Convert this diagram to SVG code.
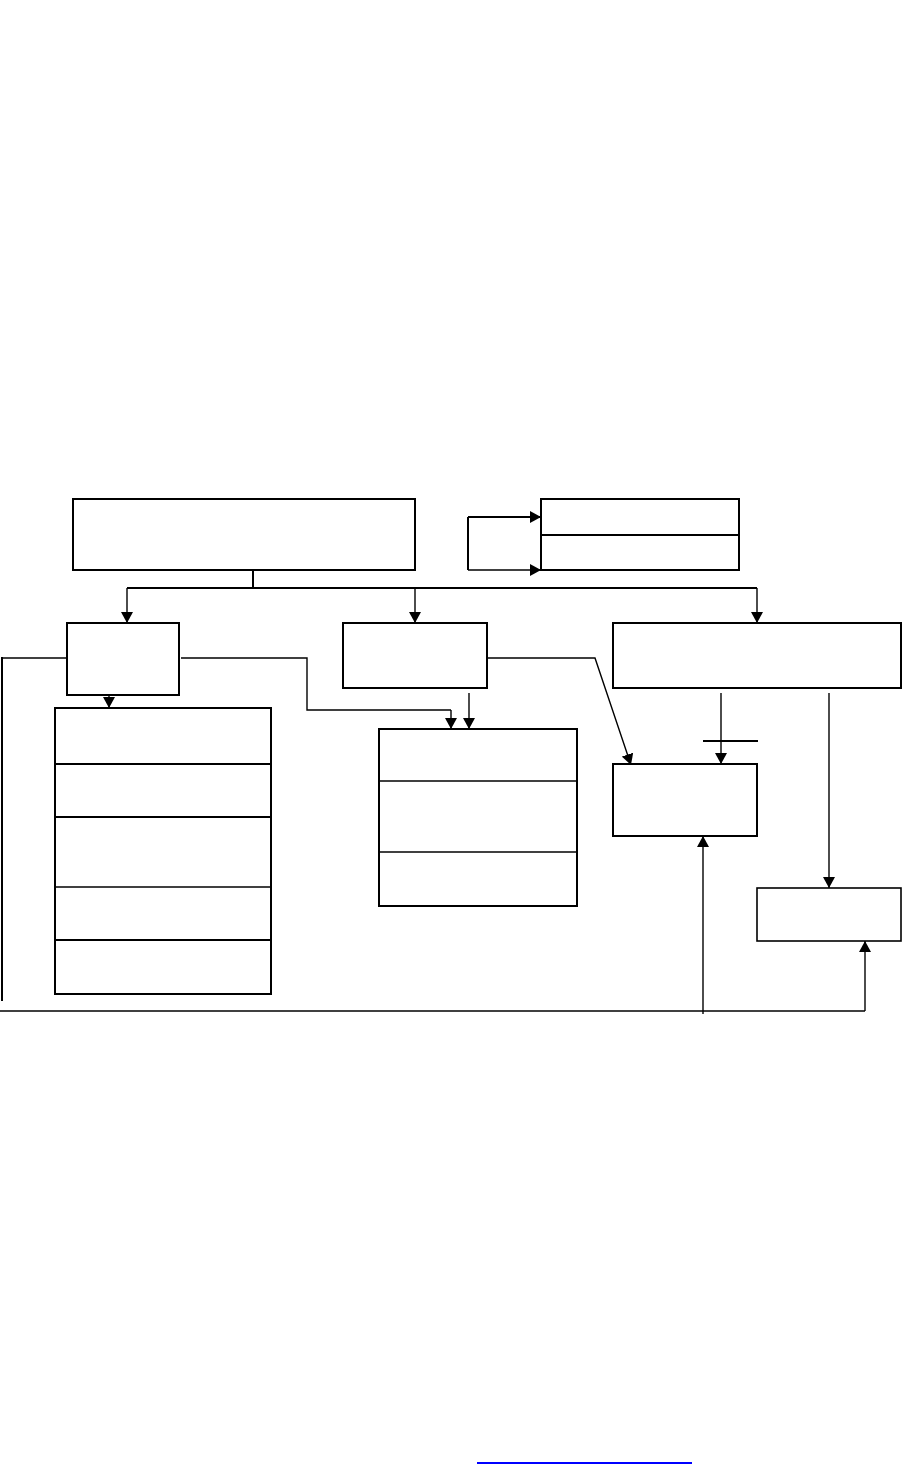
<svg xmlns="http://www.w3.org/2000/svg" width="902" height="1465" viewBox="0 0 902 1465">
<style>
.box{fill:#fff;stroke:#000;stroke-width:2}
.div2{stroke:#000;stroke-width:2}
.div1{stroke:#000;stroke-width:1.3}
.ln{fill:none;stroke:#000;stroke-width:1.4}
.ln2{fill:none;stroke:#000;stroke-width:2}
.arr{marker-end:url(#ah)}
</style>
<defs>
<marker id="ah" viewBox="0 0 10 10" refX="10" refY="5" markerWidth="11" markerHeight="12" markerUnits="userSpaceOnUse" orient="auto" preserveAspectRatio="none">
<path d="M0,0 L10,5 L0,10 Z" fill="#000"/>
</marker>
</defs>
<rect width="902" height="1465" fill="#fff"/>
<g id="connectors">
<path class="ln2" d="M253,570 V588"/>
<path class="ln2" d="M127,588 H757"/>
<path class="ln arr" d="M127,588 V623"/>
<path class="ln arr" d="M415,588 V623"/>
<path class="ln arr" d="M757,588 V623"/>
<path class="ln2" d="M468,517 V570"/>
<path class="ln2 arr" d="M468,517 H541"/>
<path class="ln arr" d="M468,570 H541"/>
<path class="ln" d="M74,658 H2"/>
<path class="ln2" d="M2,657 V1001"/>
<path class="ln arr" d="M109,695 V708"/>
<path class="ln" d="M181,658 H307 V710 H451"/>
<path class="ln arr" d="M451,710 V729"/>
<path class="ln arr" d="M469,693 V729"/>
<path class="ln arr" d="M487,658 H595 L631,765"/>
<path class="ln arr" d="M721,693 V764"/>
<path class="ln2" d="M703,741 H758"/>
<path class="ln arr" d="M829,693 V888"/>
<path class="ln" d="M0,1011 H865"/>
<path class="ln arr" d="M865,1011 V941"/>
<path class="ln arr" d="M703,1014 V836"/>
</g>
<g id="node-top"><rect class="box" x="73" y="499" width="342" height="71"/></g>
<g id="node-pair">
<rect class="box" x="541" y="499" width="198" height="71"/>
<line class="div2" x1="541" y1="535" x2="739" y2="535"/>
</g>
<g id="node-a"><rect class="box" x="67" y="623" width="112" height="72"/></g>
<g id="node-b"><rect class="box" x="343" y="623" width="144" height="65"/></g>
<g id="node-c"><rect class="box" x="613" y="623" width="288" height="65"/></g>
<g id="node-left-stack">
<rect class="box" x="55" y="708" width="216" height="286"/>
<line class="div2" x1="55" y1="764" x2="271" y2="764"/>
<line class="div2" x1="55" y1="817" x2="271" y2="817"/>
<line class="div1" x1="55" y1="887" x2="271" y2="887"/>
<line class="div2" x1="55" y1="940" x2="271" y2="940"/>
</g>
<g id="node-mid-stack">
<rect class="box" x="379" y="729" width="198" height="177"/>
<line class="div1" x1="379" y1="781" x2="577" y2="781"/>
<line class="div1" x1="379" y1="852" x2="577" y2="852"/>
</g>
<g id="node-e"><rect class="box" x="613" y="764" width="144" height="72"/></g>
<g id="node-f"><rect class="box" x="757" y="888" width="144" height="53" style="stroke-width:1.6"/></g>
<rect x="477" y="1462" width="215" height="2" fill="#0000ff"/>
</svg>
